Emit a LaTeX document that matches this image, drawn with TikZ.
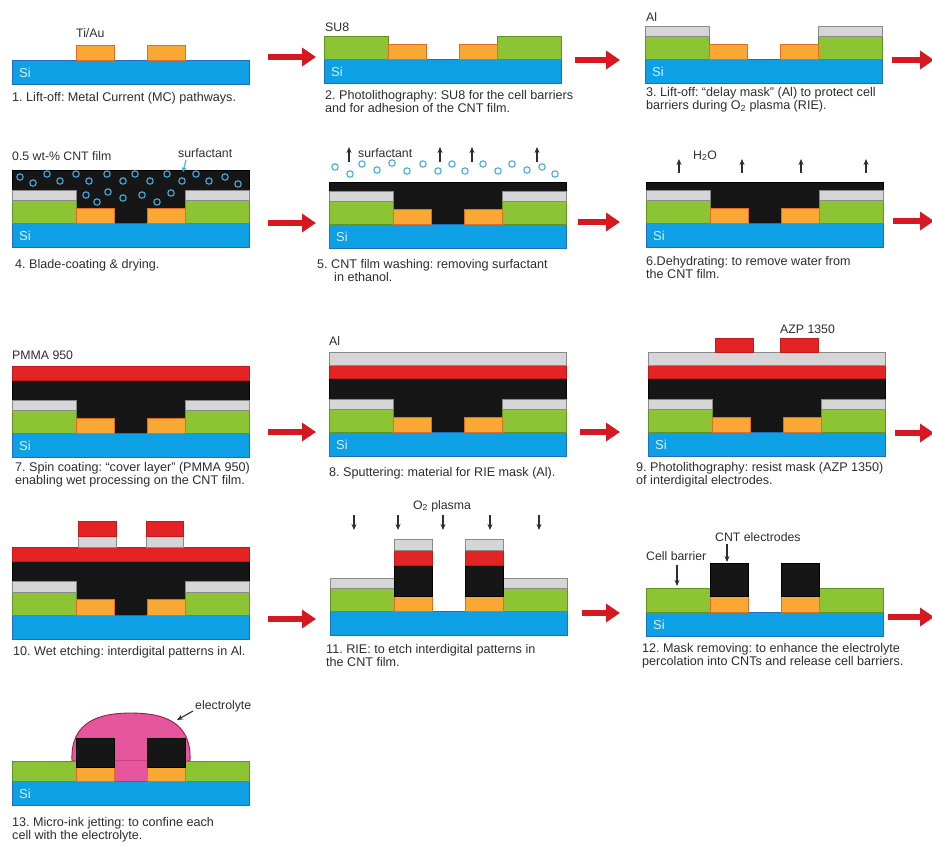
\documentclass[tikz,border=0pt]{standalone}
\usepackage{fontspec}
\setmainfont{Liberation Sans}
\usetikzlibrary{arrows.meta}
\definecolor{sifill}{RGB}{14,160,228}
\definecolor{siedge}{RGB}{30,112,190}
\definecolor{sitxt}{RGB}{215,240,252}
\definecolor{su8fill}{RGB}{140,196,52}
\definecolor{su8edge}{RGB}{96,146,36}
\definecolor{aufill}{RGB}{249,168,52}
\definecolor{auedge}{RGB}{226,108,34}
\definecolor{alfill}{RGB}{214,214,214}
\definecolor{aledge}{RGB}{138,138,138}
\definecolor{cntfill}{RGB}{22,22,22}
\definecolor{resred}{RGB}{228,36,36}
\definecolor{resedge}{RGB}{190,28,28}
\definecolor{elyfill}{RGB}{230,86,158}
\definecolor{elyedge}{RGB}{150,30,70}
\definecolor{ringblue}{RGB}{72,172,222}
\definecolor{flowred}{RGB}{214,24,32}
\definecolor{ink}{RGB}{45,45,45}
\frenchspacing

\begin{document}
\begin{tikzpicture}[
    x=1pt, y=-1pt,
    si/.style={draw=siedge, fill=sifill, line width=0.9pt},
    su8/.style={draw=su8edge, fill=su8fill, line width=0.9pt},
    pad/.style={draw=auedge, fill=aufill, line width=0.9pt},
    almask/.style={draw=aledge, fill=alfill, line width=0.9pt},
    cnt/.style={draw=black, fill=cntfill, line width=0.9pt},
    resist/.style={draw=resedge, fill=resred, line width=0.6pt},
    ely/.style={draw=elyedge, fill=elyfill, line width=0.9pt},
    ring/.style={draw=ringblue, line width=1.1pt},
    sitag/.style={anchor=base west, inner sep=0pt, text=sitxt, font=\fontsize{13}{13}\selectfont},
    lbl/.style={anchor=base west, inner sep=0pt, text=ink, font=\fontsize{12.3}{14}\selectfont},
    captxt/.style={anchor=north west, inner sep=0pt, align=left, text=ink, font=\fontsize{12.6}{13}\selectfont},
    flow/.style={-{Triangle[length=14pt,width=18pt]}, line width=5.5pt, draw=flowred},
    pointer/.style={-{Stealth[length=6pt,width=5pt]}, line width=1.1pt, draw=ink},
    surfptr/.style={-{Stealth[length=5pt,width=5pt]}, line width=1.2pt, draw=ringblue}
]
\useasboundingbox (0,0) rectangle (932,846);

% 1
\begin{scope}[shift={(12,60)}]
\draw[si] (0,0) rectangle (237,24);
\draw[pad] (64,-15) rectangle (102,0);
\draw[pad] (135,-15) rectangle (173,0);
\node[sitag] (si1) at (7,17) {Si};
\node[lbl] (tiau) at (64,-23) {Ti/Au};
\node[captxt] (c1) at (0,32) {1. Lift-off: Metal Current (MC) pathways.};
\end{scope}

% 2
\begin{scope}[shift={(324,59)}]
\draw[si] (0,0) rectangle (237,24);
\draw[su8] (0,-23) rectangle (64,0);
\draw[su8] (173,-23) rectangle (237,0);
\draw[pad] (64,-15) rectangle (102,0);
\draw[pad] (135,-15) rectangle (173,0);
\node[sitag] (si2) at (7,17) {Si};
\node[lbl] (su8lbl) at (1,-28) {SU8};
\node[captxt] (c2) at (1,31) {2. Photolithography: SU8 for the cell barriers\\and for adhesion of the CNT film.};
\end{scope}

% 3
\begin{scope}[shift={(645,59)}]
\draw[si] (0,0) rectangle (237,24);
\draw[su8] (0,-23) rectangle (64,0);
\draw[su8] (173,-23) rectangle (237,0);
\draw[almask] (0,-33) rectangle (64,-23);
\draw[almask] (173,-33) rectangle (237,-23);
\draw[pad] (64,-15) rectangle (102,0);
\draw[pad] (135,-15) rectangle (173,0);
\node[sitag] (si3) at (7,17) {Si};
\node[lbl] (allbl3) at (1,-38) {Al};
\node[captxt] (c3) at (1,28) {3. Lift-off: “delay mask” (Al) to protect cell\\barriers during O\textsubscript{2} plasma (RIE).};
\end{scope}

% 4
\begin{scope}[shift={(12,223)}]
\draw[cnt] (0,-53) rectangle (237,0);
\draw[si] (0,0) rectangle (237,24);
\draw[su8] (0,-23) rectangle (64,0);
\draw[su8] (173,-23) rectangle (237,0);
\draw[almask] (0,-33) rectangle (64,-23);
\draw[almask] (173,-33) rectangle (237,-23);
\draw[pad] (64,-15) rectangle (102,0);
\draw[pad] (135,-15) rectangle (173,0);
\foreach \cx/\cy in {8/-46, 21/-40, 35/-49, 48/-42, 64/-49, 77/-42, 95/-49, 111/-42,
    123/-49, 138/-42, 155/-49, 170/-42, 184/-49, 197/-42, 213/-46, 226/-39,
    74/-28, 85/-21, 96/-31, 111/-25, 130/-28, 145/-21, 159/-30}
  \draw[ring] (\cx,\cy) circle (3.2);
\node[sitag] (si4) at (7,17) {Si};
\node[lbl] (cntfilm) at (0,-63) {0.5 wt-\% CNT film};
\node[lbl] (surf4) at (166,-66) {surfactant};
\coordinate (surf4tip) at (171,-51);
\draw[surfptr] ([shift={(8,3)}]surf4.base west) -- (surf4tip);
\node[captxt] (c4) at (3,36) {4. Blade-coating \& drying.};
\end{scope}

% 5
\begin{scope}[shift={(329,224)}]
\draw[cnt] (0,-42) rectangle (237,0);
\draw[si] (0,0) rectangle (237,24);
\draw[su8] (0,-23) rectangle (64,0);
\draw[su8] (173,-23) rectangle (237,0);
\draw[almask] (0,-33) rectangle (64,-23);
\draw[almask] (173,-33) rectangle (237,-23);
\draw[pad] (64,-15) rectangle (102,0);
\draw[pad] (135,-15) rectangle (173,0);
\foreach \cx/\cy in {6/-57, 21/-50, 33/-60, 48/-54, 63/-61, 78/-53, 94/-60, 109/-53,
    123/-60, 136/-53, 154/-60, 169/-53, 183/-60, 198/-54, 213/-57, 226/-50}
  \draw[ring] (\cx,\cy) circle (3.2);
\foreach \ax in {20, 111, 143, 208}
  \draw[pointer] (\ax,-62) -- (\ax,-77);
\node[sitag] (si5) at (7,17) {Si};
\node[lbl] (surf5) at (29,-67) {surfactant};
\node[captxt] (c5) at (-12,35) {5. CNT film washing: removing surfactant\\\hspace*{1.35em}in ethanol.};
\end{scope}

% 6
\begin{scope}[shift={(646,223)}]
\draw[cnt] (0,-41) rectangle (237,0);
\draw[si] (0,0) rectangle (237,24);
\draw[su8] (0,-23) rectangle (64,0);
\draw[su8] (173,-23) rectangle (237,0);
\draw[almask] (0,-33) rectangle (64,-23);
\draw[almask] (173,-33) rectangle (237,-23);
\draw[pad] (64,-15) rectangle (102,0);
\draw[pad] (135,-15) rectangle (173,0);
\foreach \ax in {33, 96, 155, 220}
  \draw[pointer] (\ax,-50) -- (\ax,-64);
\node[sitag] (si6) at (7,17) {Si};
\node[lbl] (water) at (47,-64) {H\textsubscript{2}O};
\node[captxt] (c6) at (0,33) {6.Dehydrating: to remove water from\\the CNT film.};
\end{scope}

% 7
\begin{scope}[shift={(12,433)}]
\draw[cnt] (0,-53) rectangle (237,0);
\draw[resist] (0,-67) rectangle (237,-53);
\draw[si] (0,0) rectangle (237,24);
\draw[su8] (0,-23) rectangle (64,0);
\draw[su8] (173,-23) rectangle (237,0);
\draw[almask] (0,-33) rectangle (64,-23);
\draw[almask] (173,-33) rectangle (237,-23);
\draw[pad] (64,-15) rectangle (102,0);
\draw[pad] (135,-15) rectangle (173,0);
\node[sitag] (si7) at (7,17) {Si};
\node[lbl] (pmma) at (0,-74) {PMMA 950};
\node[captxt] (c7) at (3,29) {7. Spin coating: “cover layer” (PMMA 950)\\enabling wet processing on the CNT film.};
\end{scope}

% 8
\begin{scope}[shift={(329,432)}]
\draw[cnt] (0,-54) rectangle (237,0);
\draw[resist] (0,-67) rectangle (237,-54);
\draw[almask] (0,-80) rectangle (237,-67);
\draw[si] (0,0) rectangle (237,24);
\draw[su8] (0,-23) rectangle (64,0);
\draw[su8] (173,-23) rectangle (237,0);
\draw[almask] (0,-33) rectangle (64,-23);
\draw[almask] (173,-33) rectangle (237,-23);
\draw[pad] (64,-15) rectangle (102,0);
\draw[pad] (135,-15) rectangle (173,0);
\node[sitag] (si8) at (7,17) {Si};
\node[lbl] (allbl8) at (0,-87) {Al};
\node[captxt] (c8) at (0,35) {8. Sputtering: material for RIE mask (Al).};
\end{scope}

% 9
\begin{scope}[shift={(648,432)}]
\draw[cnt] (0,-54) rectangle (237,0);
\draw[resist] (0,-67) rectangle (237,-54);
\draw[almask] (0,-80) rectangle (237,-67);
\draw[resist] (67,-94) rectangle (105,-80);
\draw[resist] (132,-94) rectangle (170,-80);
\draw[si] (0,0) rectangle (237,24);
\draw[su8] (0,-23) rectangle (64,0);
\draw[su8] (173,-23) rectangle (237,0);
\draw[almask] (0,-33) rectangle (64,-23);
\draw[almask] (173,-33) rectangle (237,-23);
\draw[pad] (64,-15) rectangle (102,0);
\draw[pad] (135,-15) rectangle (173,0);
\node[sitag] (si9) at (7,17) {Si};
\node[lbl] (azp) at (132,-99) {AZP 1350};
\node[captxt] (c9) at (-12,30) {9. Photolithography: resist mask (AZP 1350)\\of interdigital electrodes.};
\end{scope}

% 10
\begin{scope}[shift={(12,615)}]
\draw[cnt] (0,-54) rectangle (237,0);
\draw[resist] (0,-68) rectangle (237,-54);
\draw[almask] (66,-79) rectangle (104,-68);
\draw[almask] (134,-79) rectangle (171,-68);
\draw[resist] (66,-94) rectangle (104,-79);
\draw[resist] (134,-94) rectangle (171,-79);
\draw[si] (0,0) rectangle (237,24);
\draw[su8] (0,-23) rectangle (64,0);
\draw[su8] (173,-23) rectangle (237,0);
\draw[almask] (0,-34) rectangle (64,-23);
\draw[almask] (173,-34) rectangle (237,-23);
\draw[pad] (64,-16) rectangle (102,0);
\draw[pad] (135,-16) rectangle (173,0);
\node[captxt] (c10) at (1,31) {10. Wet etching: interdigital patterns in Al.};
\end{scope}

% 11
\begin{scope}[shift={(330,611)}]
\draw[si] (0,0) rectangle (237,24);
\draw[su8] (0,-23) rectangle (64,0);
\draw[su8] (173,-23) rectangle (237,0);
\draw[almask] (0,-33) rectangle (64,-23);
\draw[almask] (173,-33) rectangle (237,-23);
\foreach \px in {64, 135} {
  \draw[pad] (\px,-15) rectangle (\px+38,0);
  \draw[cnt] (\px,-46) rectangle (\px+38,-15);
  \draw[resist] (\px,-61) rectangle (\px+38,-46);
  \draw[almask] (\px,-72) rectangle (\px+38,-61);
}
\foreach \ax in {24, 68, 113, 160, 209}
  \draw[pointer] (\ax,-96) -- (\ax,-81);
\node[lbl, anchor=base] (plasma) at (112,-102) {O\textsubscript{2} plasma};
\node[captxt] (c11) at (-4,33) {11. RIE: to etch interdigital patterns in\\the CNT film.};
\end{scope}

% 12
\begin{scope}[shift={(646,612)}]
\draw[si] (0,0) rectangle (237,24);
\draw[su8] (0,-24) rectangle (64,0);
\draw[su8] (173,-24) rectangle (237,0);
\foreach \px in {64, 135} {
  \draw[pad] (\px,-16) rectangle (\px+38,0);
  \draw[cnt] (\px,-49) rectangle (\px+38,-16);
}
\node[sitag] (si12) at (7,17) {Si};
\node[lbl] (cnte) at (69,-71) {CNT electrodes};
\coordinate (cntetip) at (81,-50);
\draw[pointer] ([shift={(12,3)}]cnte.base west) -- (cntetip);
\node[lbl] (cellb) at (0,-52) {Cell barrier};
\coordinate (cellbtip) at (31,-26);
\draw[pointer] ([shift={(31,5)}]cellb.base west) -- (cellbtip);
\node[captxt] (c12) at (-4,31) {12. Mask removing: to enhance the electrolyte\\percolation into CNTs and release cell barriers.};
\end{scope}

% 13
\begin{scope}[shift={(12,781)}]
\draw[ely] (60,-20) .. controls (58,-60) and (88,-68) .. (119,-68)
    .. controls (150,-68) and (180,-60) .. (178,-20) -- cycle;
\fill[elyfill] (64,-20) rectangle (173,0);
\draw[si] (0,0) rectangle (237,24);
\draw[su8] (0,-20) rectangle (64,0);
\draw[su8] (173,-20) rectangle (237,0);
\foreach \px in {64, 135} {
  \draw[pad] (\px,-14) rectangle (\px+38,0);
  \draw[cnt] (\px,-43) rectangle (\px+38,-14);
}
\node[sitag] (si13) at (7,17) {Si};
\node[lbl] (elyt) at (183,-72) {electrolyte};
\coordinate (elytip) at (165,-61);
\draw[pointer] ([shift={(-2,2)}]elyt.base west) -- (elytip);
\node[captxt] (c13) at (0,36) {13. Micro-ink jetting: to confine each\\cell with the electrolyte.};
\end{scope}

\foreach \k/\xa/\xb/\yy in {1/268/316/57, 2/575/620/60, 3/892/934/60,
    4/268/316/223, 5/578/620/222, 6/893/934/221,
    7/268/316/432, 8/580/620/432, 9/895/934/433,
    10/268/316/619, 11/582/620/613, 12/888/934/617} {
  \coordinate (from\k) at (\xa,\yy);
  \coordinate (to\k) at (\xb,\yy);
  \draw[flow] (from\k) -- (to\k);
}
\end{tikzpicture}
\end{document}
